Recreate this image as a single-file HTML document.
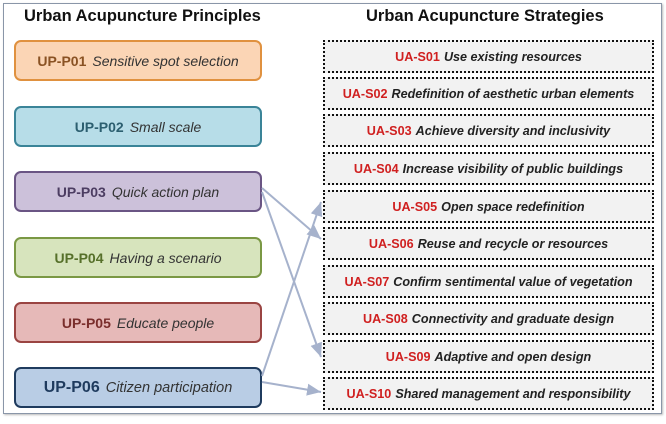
<!DOCTYPE html>
<html><head><style>
body{margin:0;width:666px;height:424px;background:#fff;font-family:"Liberation Sans",sans-serif;position:relative;overflow:hidden}
.frame{position:absolute;left:3px;top:3px;width:657px;height:409px;border:1px solid #8a96a8;box-shadow:1px 1px 2px #bbb}
.h{position:absolute;top:7px;font-weight:bold;font-size:16.5px;color:#111}
.p{position:absolute;left:14px;width:244px;height:37px;border:2px solid;border-radius:7px;display:flex;align-items:center;justify-content:center;font-size:14px;color:#333;box-sizing:content-box;white-space:nowrap}
.p b{margin-right:6px;font-weight:bold}
.p i{font-style:italic}
.s{position:absolute;left:323px;width:327px;height:29px;border:2.5px dotted #111;background:#f2f2f2;display:flex;align-items:center;justify-content:center;font-size:12.6px;font-weight:bold;font-style:italic;color:#222;white-space:nowrap}
.s span{color:#d02020;font-style:normal;margin-right:4px}
</style></head><body>
<div class="frame"></div>
<div class="h" style="left:24px">Urban Acupuncture Principles</div>
<div class="h" style="left:366px">Urban Acupuncture Strategies</div>

<div class="p" style="top:40px;background:#fbd5b5;border-color:#e0913f"><b style="color:#8a5223">UP-P01</b><i>Sensitive spot selection</i></div>
<div class="p" style="top:106px;background:#b7dde8;border-color:#3a8498"><b style="color:#2c5f70">UP-P02</b><i>Small scale</i></div>
<div class="p" style="top:171px;background:#ccc1da;border-color:#6a5584"><b style="color:#4c3d62">UP-P03</b><i>Quick action plan</i></div>
<div class="p" style="top:237px;background:#d7e4bd;border-color:#7a9844"><b style="color:#56702a">UP-P04</b><i>Having a scenario</i></div>
<div class="p" style="top:302px;background:#e6b9b8;border-color:#9a4442"><b style="color:#7a2e2c">UP-P05</b><i>Educate people</i></div>
<div class="p" style="top:367px;background:#b9cde5;border-color:#1f3b5e;font-size:14.5px"><b style="color:#1f3b5e;font-size:16px">UP-P06</b><i>Citizen participation</i></div>

<div class="s" style="top:40px"><span>UA-S01</span>Use existing resources</div>
<div class="s" style="top:77px"><span>UA-S02</span>Redefinition of aesthetic urban elements</div>
<div class="s" style="top:114px"><span>UA-S03</span>Achieve diversity and inclusivity</div>
<div class="s" style="top:152px"><span>UA-S04</span>Increase visibility of public buildings</div>
<div class="s" style="top:190px"><span>UA-S05</span>Open space redefinition</div>
<div class="s" style="top:227px"><span>UA-S06</span>Reuse and recycle or resources</div>
<div class="s" style="top:265px"><span>UA-S07</span>Confirm sentimental value of vegetation</div>
<div class="s" style="top:302px"><span>UA-S08</span>Connectivity and graduate design</div>
<div class="s" style="top:340px"><span>UA-S09</span>Adaptive and open design</div>
<div class="s" style="top:377px"><span>UA-S10</span>Shared management and responsibility</div>

<svg width="666" height="424" style="position:absolute;left:0;top:0">
<defs><marker id="a" markerWidth="8" markerHeight="8" refX="7" refY="4" orient="auto"><path d="M0,1 L7,4 L0,7 Z" fill="#a6b2cc"/></marker></defs>
<g stroke="#a6b2cc" stroke-width="2" fill="none" marker-end="url(#a)">
<line x1="262" y1="188" x2="321" y2="239"/>
<line x1="262" y1="192" x2="321" y2="357"/>
<line x1="262" y1="376" x2="321" y2="202"/>
<line x1="262" y1="382" x2="321" y2="392"/>
</g></svg>
</body></html>
